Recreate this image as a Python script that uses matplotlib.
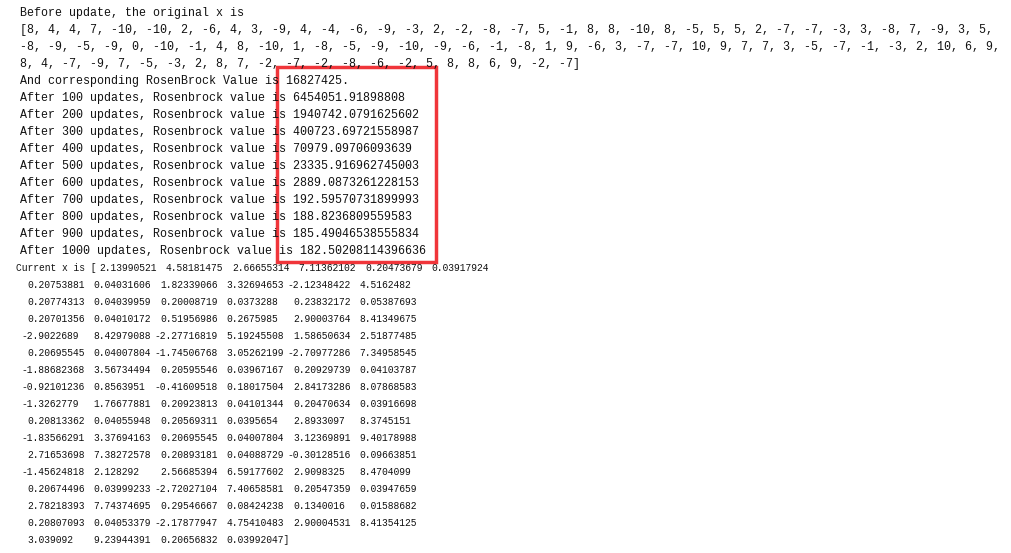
import matplotlib as mpl
mpl.use('Agg')
import matplotlib.pyplot as plt
from matplotlib.patches import Rectangle

# console output values
x_before = [8, 4, 4, 7, -10, -10, 2, -6, 4, 3, -9, 4, -4, -6, -9, -3, 2, -2, -8, -7,
            5, -1, 8, 8, -10, 8, -5, 5, 5, 2, -7, -7, -3, 3, -8, 7, -9, 3, 5,
            -8, -9, -5, -9, 0, -10, -1, 4, 8, -10, 1, -8, -5, -9, -10, -9, -6, -1,
            -8, 1, 9, -6, 3, -7, -7, 10, 9, 7, 7, 3, -5, -7, -1, -3, 2, 10, 6, 9,
            8, 4, -7, -9, 7, -5, -3, 2, 8, 7, -2, -7, -2, -8, -6, -2, 5, 8, 8, 6, 9, -2, -7]
row_breaks = [39, 77]
initial_value = '16827425.'
update_steps = [100, 200, 300, 400, 500, 600, 700, 800, 900, 1000]
rosen_values = ['6454051.91898808', '1940742.0791625602', '400723.69721558987',
                '70979.09706093639', '23335.916962745003', '2889.0873261228153',
                '192.59570731899993', '188.8236809559583', '185.49046538555834',
                '182.50208114396636']
x_current = [
    ['2.13990521', '4.58181475', '2.66655314', '7.11362102', '0.20473679', '0.03917924'],
    ['0.20753881', '0.04031606', '1.82339066', '3.32694653', '-2.12348422', '4.5162482'],
    ['0.20774313', '0.04039959', '0.20008719', '0.0373288', '0.23832172', '0.05387693'],
    ['0.20701356', '0.04010172', '0.51956986', '0.2675985', '2.90003764', '8.41349675'],
    ['-2.9022689', '8.42979088', '-2.27716819', '5.19245508', '1.58650634', '2.51877485'],
    ['0.20695545', '0.04007804', '-1.74506768', '3.05262199', '-2.70977286', '7.34958545'],
    ['-1.88682368', '3.56734494', '0.20595546', '0.03967167', '0.20929739', '0.04103787'],
    ['-0.92101236', '0.8563951', '-0.41609518', '0.18017504', '2.84173286', '8.07868583'],
    ['-1.3262779', '1.76677881', '0.20923813', '0.04101344', '0.20470634', '0.03916698'],
    ['0.20813362', '0.04055948', '0.20569311', '0.0395654', '2.8933097', '8.3745151'],
    ['-1.83566291', '3.37694163', '0.20695545', '0.04007804', '3.12369891', '9.40178988'],
    ['2.71653698', '7.38272578', '0.20893181', '0.04088729', '-0.30128516', '0.09663851'],
    ['-1.45624818', '2.128292', '2.56685394', '6.59177602', '2.9098325', '8.4704099'],
    ['0.20674496', '0.03999233', '-2.72027104', '7.40658581', '0.20547359', '0.03947659'],
    ['2.78218393', '7.74374695', '0.29546667', '0.08424238', '0.1340016', '0.01588682'],
    ['0.20807093', '0.04053379', '-2.17877947', '4.75410483', '2.90004531', '8.41354125'],
    ['3.039092', '9.23944391', '0.20656832', '0.03992047'],
]

lines = ['Before update, the original x is']
chunks = [x_before[:row_breaks[0]], x_before[row_breaks[0]:row_breaks[1]], x_before[row_breaks[1]:]]
for i, c in enumerate(chunks):
    s = ', '.join(str(v) for v in c)
    s = ('[' if i == 0 else '') + s + (']' if i == 2 else ',')
    lines.append(s)
lines.append('And corresponding RosenBrock Value is ' + initial_value)
for n, v in zip(update_steps, rosen_values):
    lines.append('After %d updates, Rosenbrock value is %s' % (n, v))

W, H = 1012, 553
fig = plt.figure(figsize=(W / 100, H / 100), dpi=100)
ax = fig.add_axes([0, 0, 1, 1])
ax.set_xlim(0, W)
ax.set_ylim(H, 0)
ax.axis('off')

line_h = 17.0
font = dict(family='Liberation Mono', va='center', ha='left', color='#111111')
for i, s in enumerate(lines):
    ax.text(20, 13 + i * line_h, s, fontsize=8.4, **font)

# matrix block printed in a narrower font
start = len(lines)
col_w = 66.5
small = 6.9
sign_w = 5.7
for i, row in enumerate(x_current):
    y = 13 + (start + i) * line_h
    base = 99 if i == 0 else 27
    if i == 0:
        ax.text(16, y, 'Current x is [', fontsize=small, **font)
    for j, v in enumerate(row):
        x = base + col_w * j - (sign_w if v.startswith('-') else 0)
        txt = v + (']' if i == len(x_current) - 1 and j == len(row) - 1 else '')
        ax.text(x, y, txt, fontsize=small, **font)

ax.add_patch(Rectangle((277, 67), 159, 195, fill=False, edgecolor='#f0353a', lw=2.5))

fig.savefig('out.png', dpi=100)
